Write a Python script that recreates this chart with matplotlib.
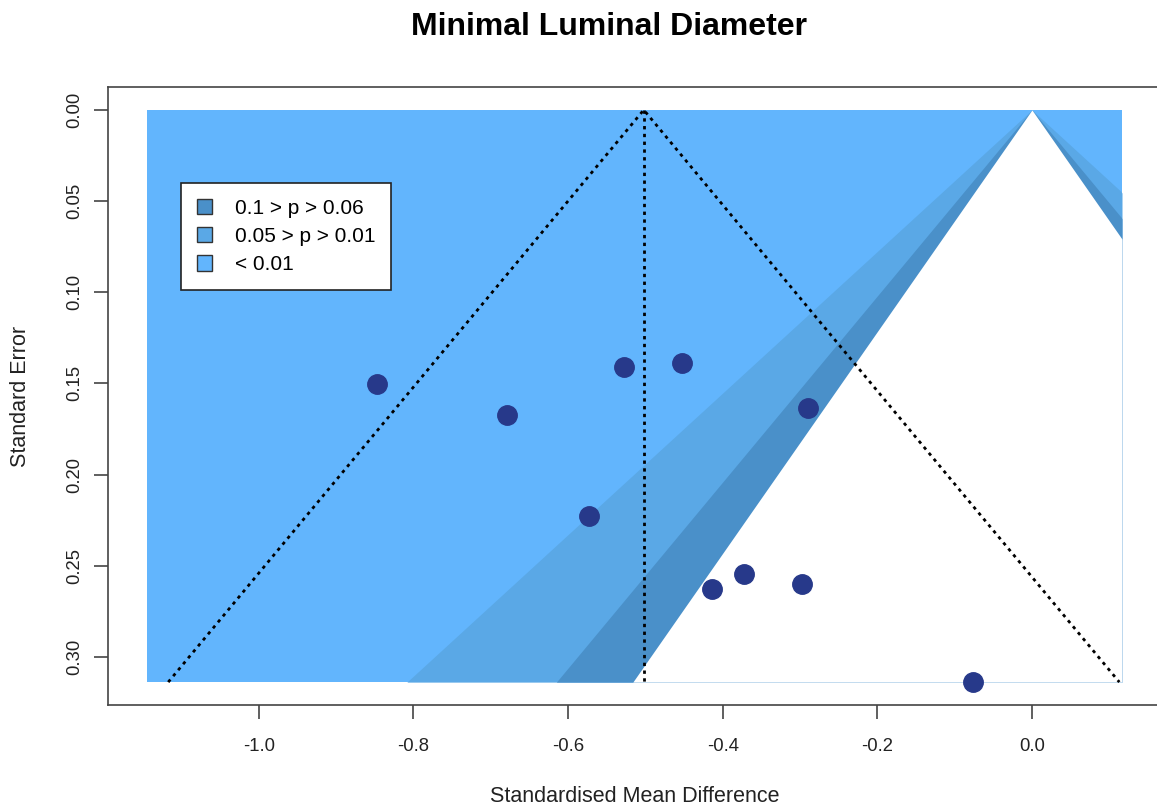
import numpy as np
import matplotlib
matplotlib.use("Agg")
import matplotlib.pyplot as plt
from matplotlib.patches import Patch

plt.rcParams['font.family'] = ['Liberation Sans', 'DejaVu Sans']

# study estimates (standardised mean difference) and their standard errors
smd = [-0.847, -0.679, -0.528, -0.452, -0.289, -0.573, -0.414, -0.373, -0.297, -0.076]
se = [0.1503, 0.1673, 0.1410, 0.1388, 0.1635, 0.2227, 0.2628, 0.2545, 0.2600, 0.3138]
pooled = -0.502

# contour levels (z values): outer rectangle, then 2.576, 1.96, 1.645 (white)
z_levels = [2.576, 1.960, 1.645]
contour_colors = ['#5aa8e6', '#4a90c9', 'white']
outer_color = '#62b5fd'
legend_labels = ['0.1 > p > 0.06', '0.05 > p > 0.01', '< 0.01']
legend_colors = ['#4a90c9', '#5aa8e6', '#62b5fd']

xticks = [-1.0, -0.8, -0.6, -0.4, -0.2, 0.0]
yticks = [0.00, 0.05, 0.10, 0.15, 0.20, 0.25, 0.30]

se_max = max(se)
x_lo = -1.145
x_hi = 0.1165

fig = plt.figure(figsize=(11.57, 8.11), dpi=100)
ax = fig.add_axes([0.0933, 0.1307, 0.9102, 0.762])

s_grid = np.linspace(0, se_max, 400)
ax.fill_between([x_lo, x_hi], 0, se_max, color=outer_color, lw=0, zorder=1)
for z, col in zip(z_levels, contour_colors):
    ax.fill_betweenx(s_grid, np.clip(-z * s_grid, x_lo, x_hi), np.clip(z * s_grid, x_lo, x_hi),
                     color=col, lw=0, zorder=1)

# pseudo confidence region around pooled estimate
ax.plot([pooled - 1.96 * se_max, pooled, pooled + 1.96 * se_max], [se_max, 0, se_max],
        color='black', ls=(0, (1.2, 1.6)), lw=2.0, zorder=3)
ax.plot([pooled, pooled], [0, se_max], color='black', ls=(0, (1.2, 1.6)), lw=2.0, zorder=3)

ax.plot(smd, se, 'o', color='#27398a', markersize=14, zorder=4)

ax.set_xlim(-1.195, 0.167)
ax.set_ylim(se_max * 1.04, -se_max * 0.04)
ax.set_xticks(xticks)
ax.set_xticklabels([f"{t:.1f}" for t in xticks])
ax.set_yticks(yticks)
ax.set_yticklabels([f"{t:.2f}" for t in yticks], rotation=90, va='center')
ax.tick_params(axis='both', direction='out', length=10, width=1.2, labelsize=13.3,
               color='#444444', labelcolor='#222222', pad=8)
ax.tick_params(axis='x', pad=14)
for sp in ax.spines.values():
    sp.set_color('#444444')
    sp.set_linewidth(1.2)

ax.set_xlabel('Standardised Mean Difference', fontsize=15.5, color='#222222', labelpad=22)
ax.set_ylabel('Standard Error', fontsize=15.5, color='#222222', labelpad=25)

handles = [Patch(facecolor=c, edgecolor='#333333', lw=1) for c in legend_colors]
leg = ax.legend(handles, legend_labels, loc='upper left', bbox_to_anchor=(0.0693, 0.8447),
                borderaxespad=0, fontsize=15, frameon=True, fancybox=False, framealpha=1,
                handlelength=0.75, handleheight=0.75, handletextpad=1.1,
                labelspacing=0.45, borderpad=0.75)
leg.get_frame().set_edgecolor('#222222')
leg.get_frame().set_facecolor('white')
leg.get_frame().set_linewidth(1.2)
leg.set_zorder(5)

fig.text(609 / 1157, 1 - 27 / 811, 'Minimal Luminal Diameter', ha='center', va='center',
         fontsize=23, fontweight='bold')

fig.savefig('out.png', dpi=100)
